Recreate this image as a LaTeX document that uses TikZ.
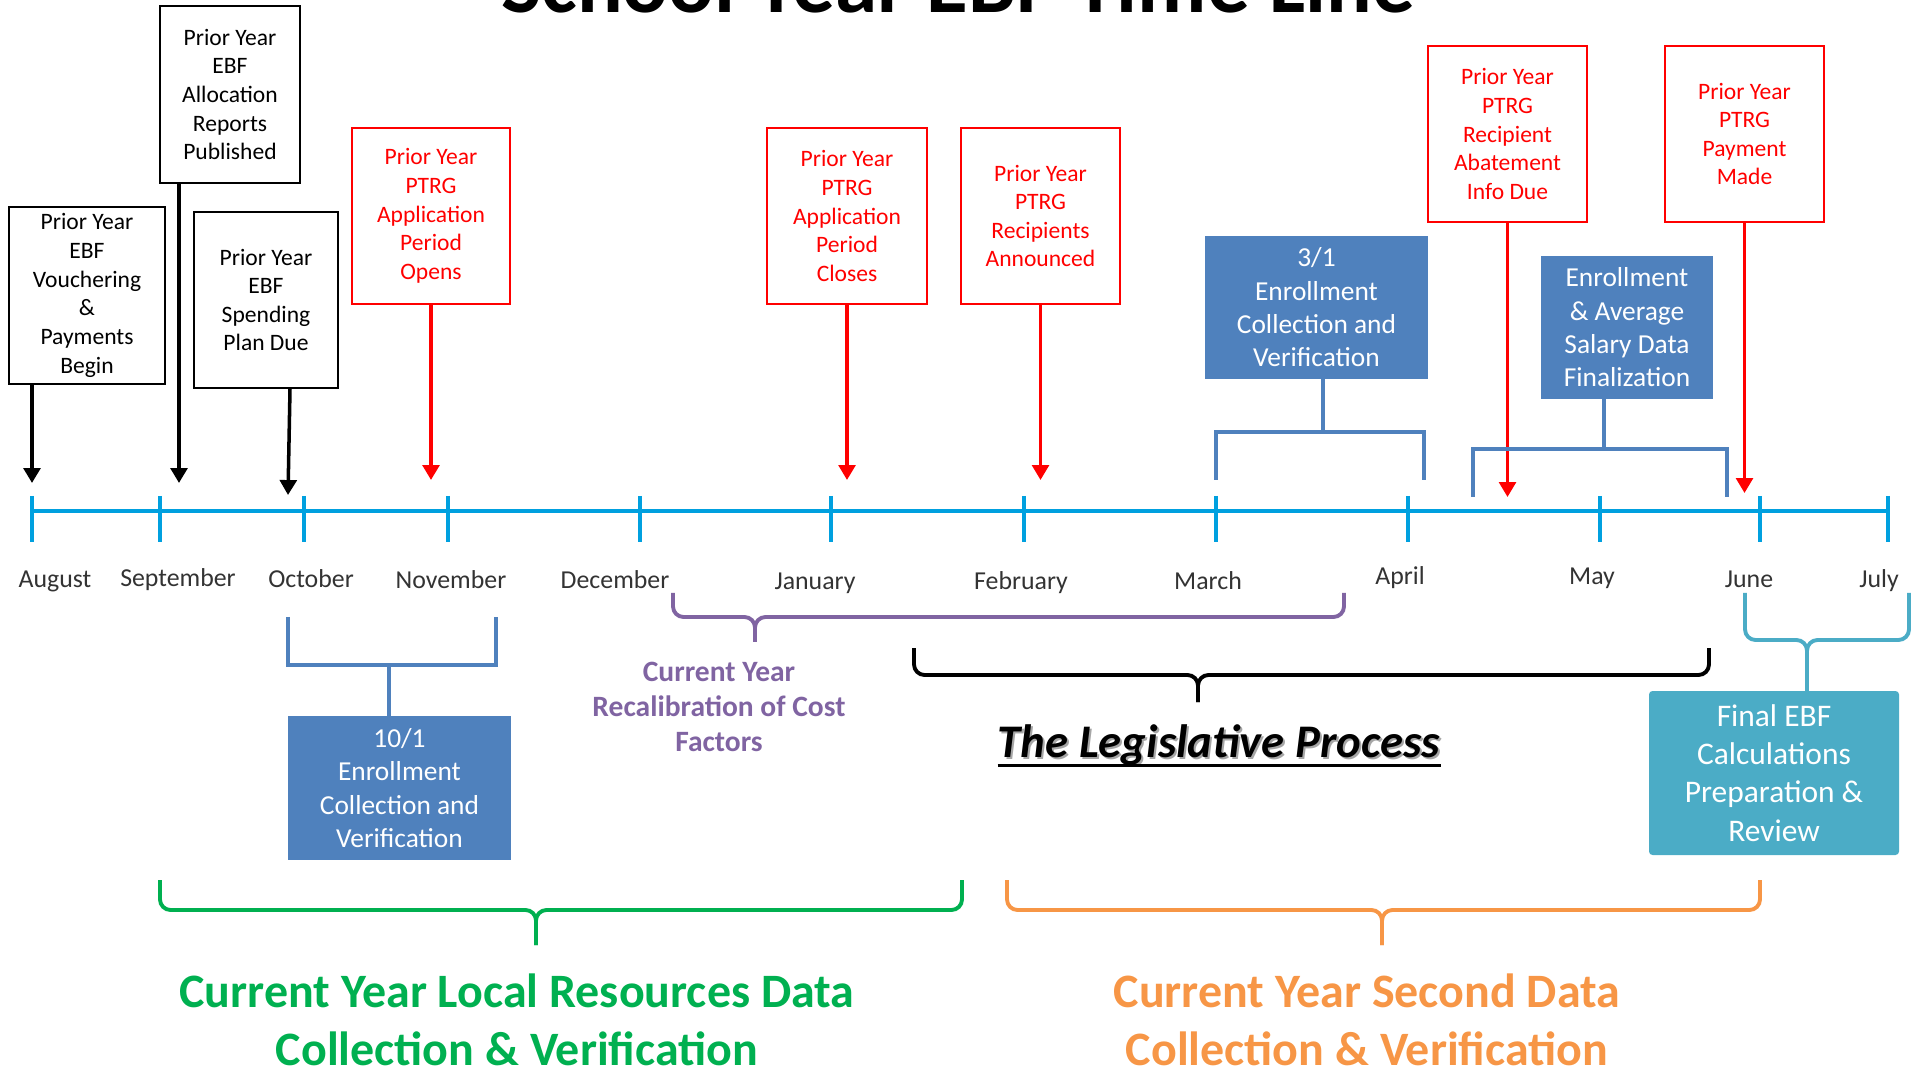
\documentclass[tikz,border=0pt]{standalone}
\usepackage{fontspec}
\setmainfont{Carlito}
\usetikzlibrary{arrows.meta}

\tikzset{
    eventbox/.style={draw, line width=1.4pt, align=center, inner sep=0pt, font=\fontsize{13.4}{16.3}\selectfont},
    priorbox/.style={eventbox, draw=black},
    ptrgbox/.style={eventbox, draw=red, text=red},
    enrollbox/.style={fill=boxblue, text=white, align=center, inner sep=0pt, font=\fontsize{15.6}{19}\selectfont},
    monthlabel/.style={anchor=base, text=black!80, font=\fontsize{14.7}{17}\selectfont},
    pointer/.style={line width=2pt, -{Triangle[length=8.5pt,width=9.5pt]}},
    redpointer/.style={pointer, red},
    bracket/.style={boxblue, line width=2.2pt},
    bracearm/.style={line width=2.2pt, rounded corners=6pt},
}

% brace: colour, left, right, middle, top, bottom, tip
\newcommand{\timebrace}[7]{%
    \draw[#1, bracearm] (#2,#5) -- (#2,#6) -- (#4,#6) -- (#4,#7);
    \draw[#1, bracearm] (#3,#5) -- (#3,#6) -- (#4,#6) -- (#4,#7);
}

\begin{document}
\begin{tikzpicture}

    \definecolor{lineblue}{RGB}{0,160,223}
    \definecolor{boxblue}{RGB}{79,129,189}
    \definecolor{calcteal}{RGB}{75,172,198}
    \definecolor{recalpurple}{RGB}{128,100,162}
    \definecolor{localgreen}{RGB}{0,176,80}
    \definecolor{secondorange}{RGB}{247,150,70}

    \useasboundingbox (0,0) rectangle (38.22,-21.46);

    % Draw the title, cut off by the top edge
    \node[anchor=base, font=\fontsize{48.5}{56}\selectfont\bfseries] (title) at (19.16,-0.26) {School Year EBF Time Line};

    % Draw the time line with a tick and a label for every month
    \coordinate (linestart) at (0.64,-10.22);
    \coordinate (lineend) at (37.76,-10.22);
    \draw[lineblue, line width=2pt] (linestart) -- (lineend);
    \foreach \tx/\lx/\ly/\month in {0.64/1.10/-11.76/August, 3.20/3.56/-11.72/September,
        6.08/6.22/-11.76/October, 8.96/9.02/-11.78/November, 12.80/12.30/-11.78/December,
        16.62/16.30/-11.80/January, 20.48/20.42/-11.80/February, 24.32/24.16/-11.80/March,
        28.16/28.00/-11.70/April, 32.00/31.84/-11.70/May, 35.20/34.98/-11.76/June, 37.76/37.58/-11.76/July} {
        \draw[lineblue, line width=2pt] (\tx,-9.92) -- (\tx,-10.84);
        \node[monthlabel] (\month) at (\lx,\ly) {\month};
    }

    % Draw the prior year EBF boxes
    \node[priorbox, minimum width=3.12cm, minimum height=3.54cm] (voucher) at (1.74,-5.91) {Prior Year\\EBF\\Vouchering\\\&\\Payments\\Begin};
    \node[priorbox, minimum width=2.80cm, minimum height=3.54cm] (allocation) at (4.60,-1.89) {Prior Year\\EBF\\Allocation\\Reports\\Published};
    \node[priorbox, minimum width=2.88cm, minimum height=3.52cm] (spending) at (5.32,-6.00) {Prior Year\\EBF\\Spending\\Plan Due};

    % Draw the arrows down to the time line
    \coordinate (voucher tip) at (0.64,-9.66);
    \coordinate (allocation tip) at (3.58,-9.66);
    \coordinate (spending tip) at (5.76,-9.90);
    \draw[pointer] (voucher.south -| voucher tip) -- (voucher tip);
    \draw[pointer] (allocation.south -| allocation tip) -- (allocation tip);
    \draw[pointer] ([xshift=0.48cm]spending.south) -- (spending tip);

    % Draw the prior year PTRG boxes
    \node[ptrgbox, minimum width=3.16cm, minimum height=3.52cm] (opens) at (8.62,-4.32) {Prior Year\\PTRG\\Application\\Period\\Opens};
    \node[ptrgbox, minimum width=3.20cm, minimum height=3.52cm] (closes) at (16.94,-4.32) {Prior Year\\PTRG\\Application\\Period\\Closes};
    \node[ptrgbox, minimum width=3.18cm, minimum height=3.52cm] (announced) at (20.81,-4.32) {Prior Year\\PTRG\\Recipients\\Announced};
    \node[ptrgbox, minimum width=3.18cm, minimum height=3.52cm] (abatement) at (30.15,-2.68) {Prior Year\\PTRG\\Recipient\\Abatement\\Info Due};
    \node[ptrgbox, minimum width=3.18cm, minimum height=3.52cm] (payment) at (34.89,-2.68) {Prior Year\\PTRG\\Payment\\Made};

    % Draw the red arrows
    \coordinate (opens tip) at (8.62,-9.60);
    \coordinate (closes tip) at (16.94,-9.60);
    \coordinate (announced tip) at (20.81,-9.60);
    \coordinate (abatement tip) at (30.15,-9.94);
    \coordinate (payment tip) at (34.89,-9.86);
    \draw[redpointer] (opens.south) -- (opens tip);
    \draw[redpointer] (closes.south) -- (closes tip);
    \draw[redpointer] (announced.south) -- (announced tip);
    \draw[redpointer] (abatement.south) -- (abatement tip);
    \draw[redpointer] (payment.south) -- (payment tip);

    % Draw the enrollment boxes and their brackets
    \node[enrollbox, minimum width=4.46cm, minimum height=2.86cm] (marenroll) at (26.33,-6.15) {3/1\\Enrollment\\Collection and\\Verification};
    \node[enrollbox, minimum width=3.44cm, minimum height=2.86cm] (salary) at (32.54,-6.55) {Enrollment\\\& Average\\Salary Data\\Finalization};
    \node[enrollbox, minimum width=4.46cm, minimum height=2.88cm] (octenroll) at (7.99,-15.76) {10/1\\Enrollment\\Collection and\\Verification};

    \coordinate (marstem) at (26.46,-8.64);
    \draw[bracket] (24.32,-9.60) -- (24.32,-8.64) -- (28.48,-8.64) -- (28.48,-9.60);
    \draw[bracket] (marenroll.south -| marstem) -- (marstem);

    \coordinate (salarystem) at (32.08,-8.98);
    \draw[bracket] (29.46,-9.94) -- (29.46,-8.98) -- (34.54,-8.98) -- (34.54,-9.94);
    \draw[bracket] (salary.south -| salarystem) -- (salarystem);

    \coordinate (octstem) at (7.78,-13.30);
    \draw[bracket] (5.76,-12.34) -- (5.76,-13.30) -- (9.92,-13.30) -- (9.92,-12.34);
    \draw[bracket] (octenroll.north -| octstem) -- (octstem);

    % Draw the final calculations box
    \node[fill=calcteal, text=white, rounded corners=2pt, inner sep=0pt, minimum width=5.00cm, minimum height=3.28cm, align=center,
        font=\fontsize{17.9}{21.8}\selectfont] (finalcalc) at (35.48,-15.46) {Final EBF\\Calculations\\Preparation \&\\Review};

    % Draw the braces
    \timebrace{recalpurple}{13.46}{26.88}{15.10}{-11.86}{-12.34}{-12.84}
    \timebrace{black}{18.28}{34.18}{23.96}{-12.96}{-13.50}{-14.04}
    \timebrace{calcteal}{34.90}{38.18}{36.14}{-11.86}{-12.80}{-13.82}
    \timebrace{localgreen}{3.20}{19.24}{10.72}{-17.60}{-18.20}{-18.90}
    \timebrace{secondorange}{20.14}{35.20}{27.64}{-17.60}{-18.20}{-18.90}

    % Draw the labels under the braces
    \node[align=center, text=recalpurple, font=\fontsize{16.8}{20.1}\selectfont\bfseries] (recal) at (14.38,-14.14) {Current Year\\Recalibration of Cost\\Factors};

    \node[inner sep=0pt, text=black!35, font=\fontsize{26.6}{31}\selectfont\bfseries\itshape] (legis shadow) at (24.42,-14.94) {The Legislative Process};
    \node[inner sep=0pt, font=\fontsize{26.6}{31}\selectfont\bfseries\itshape] (legis) at (24.38,-14.90) {The Legislative Process};
    \draw[line width=1.5pt] ([yshift=-0.16cm]legis.base west) -- ([yshift=-0.16cm]legis.base east);

    \node[align=center, text=localgreen, font=\fontsize{27.3}{32.9}\selectfont\bfseries] (localdata) at (10.34,-20.40) {Current Year Local Resources Data\\Collection \& Verification};
    \node[align=center, text=secondorange, font=\fontsize{27.3}{32.9}\selectfont\bfseries] (seconddata) at (27.34,-20.40) {Current Year Second Data\\Collection \& Verification};

\end{tikzpicture}
\end{document}
